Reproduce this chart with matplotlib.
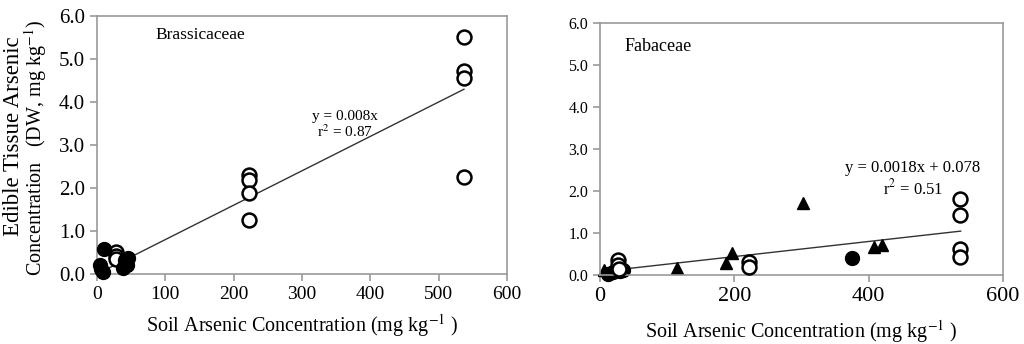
import numpy as np
import matplotlib
matplotlib.use("Agg")
import matplotlib.pyplot as plt

plt.rcParams['font.family'] = ['Liberation Serif', 'DejaVu Serif']
plt.rcParams['mathtext.fontset'] = 'stix'

# Brassicaceae
b_open_x = [222, 222, 222, 222, 537, 537, 537, 537, 28, 28, 28]
b_open_y = [2.30, 2.19, 1.88, 1.26, 5.52, 4.72, 4.56, 2.25, 0.51, 0.42, 0.35]
b_fill_x = [11, 4, 9, 6, 41, 38, 46, 44]
b_fill_y = [0.58, 0.21, 0.05, 0.12, 0.33, 0.14, 0.37, 0.22]
b_slope = 0.008

# Fabaceae
f_open_x = [536, 536, 536, 536, 222, 222, 27, 27, 28]
f_open_y = [1.81, 1.43, 0.62, 0.43, 0.31, 0.20, 0.36, 0.24, 0.15]
f_fill_x = [375, 34, 12, 30, 20]
f_fill_y = [0.40, 0.12, 0.03, 0.10, 0.08]
f_tri_x = [302, 196, 188, 115, 408, 420, 6]
f_tri_y = [1.71, 0.52, 0.29, 0.17, 0.67, 0.71, 0.12]
f_slope, f_icpt = 0.0018, 0.078

fig = plt.figure(figsize=(10.24, 3.44), dpi=100)
ax1 = fig.add_axes([0.0947, 0.2035, 0.4004, 0.75])
ax2 = fig.add_axes([0.5859, 0.2006, 0.3936, 0.7326])

spine_c = '#999999'
for ax in (ax1, ax2):
    for s in ax.spines.values():
        s.set_color(spine_c)
        s.set_linewidth(1.2)
    ax.tick_params(direction='out', color=spine_c, length=5, width=1.2)
    ax.set_ylim(0, 6)
    ax.set_xlim(0, 600)
    ax.set_yticks(np.arange(0, 6.1, 1.0))
    ax.set_yticklabels(['%.1f' % v for v in np.arange(0, 6.1, 1.0)])

# left panel
xl = np.array([0, 537])
ax1.plot(xl, b_slope * xl, color='#333333', lw=1.0, zorder=1)
ax1.plot(b_open_x, b_open_y, 'o', mfc='white', mec='black', mew=1.8, ms=10, zorder=2, clip_on=False)
ax1.plot(b_fill_x, b_fill_y, 'o', mfc='black', mec='black', ms=10, zorder=3, clip_on=False)
ax1.set_xticks(range(0, 601, 100))
ax1.tick_params(axis='x', labelsize=14)
ax1.tick_params(axis='y', labelsize=15)
ax1.text(85, 5.56, 'Brassicaceae', fontsize=12.5, va='center')
ax1.text(363, 3.67, 'y = 0.008x', fontsize=11, ha='center', va='center')
ax1.text(363, 3.30, 'r$^2$ = 0.87', fontsize=11, ha='center', va='center')
ax1.set_xlabel('Soil Arsenic Concentration (mg kg$^{-1}$ )', fontsize=14.5, labelpad=7)
fig.text(14 / 1024, 1 - 136 / 344, 'Edible Tissue Arsenic', rotation=90,
         fontsize=16.5, ha='center', va='center')
fig.text(36 / 1024, 1 - 148 / 344, 'Concentration   (DW, mg kg$^{-1}$)', rotation=90,
         fontsize=14.5, ha='center', va='center')

# right panel
xr = np.array([5, 537])
ax2.plot(xr, f_slope * xr + f_icpt, color='#333333', lw=1.0, zorder=1)
ax2.plot(f_open_x, f_open_y, 'o', mfc='white', mec='black', mew=1.8, ms=10, zorder=3, clip_on=False)
ax2.plot(f_fill_x, f_fill_y, 'o', mfc='black', mec='black', ms=10, zorder=2, clip_on=False)
ax2.plot(f_tri_x, f_tri_y, '^', mfc='black', mec='black', ms=9, zorder=2, clip_on=False)
ax2.set_xticks(range(0, 601, 200))
ax2.tick_params(axis='x', labelsize=16)
ax2.tick_params(axis='y', labelsize=11.5)
ax2.text(37, 5.45, 'Fabaceae', fontsize=13, va='center')
ax2.text(466, 2.55, 'y = 0.0018x + 0.078', fontsize=12, ha='center', va='center')
ax2.text(466, 2.07, 'r$^2$ = 0.51', fontsize=12, ha='center', va='center')
ax2.set_xlabel('Soil Arsenic Concentration (mg kg$^{-1}$ )', fontsize=14.5, labelpad=9)

fig.savefig('out.png', dpi=100)
